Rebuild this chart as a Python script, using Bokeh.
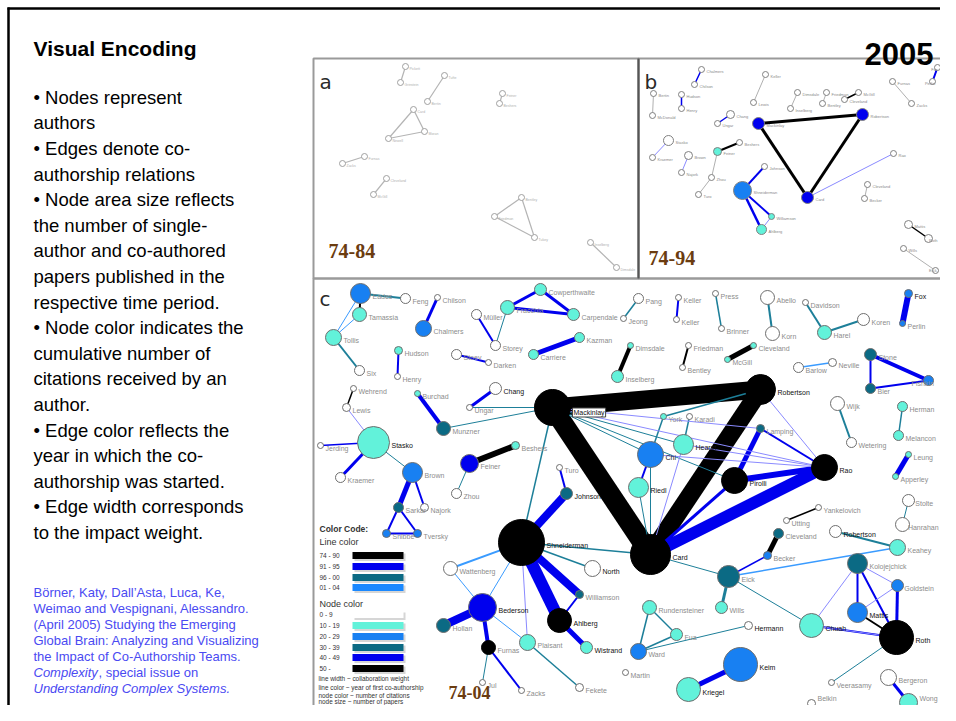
from bokeh.plotting import figure
from bokeh.models import Range1d, Label
from bokeh.embed import file_html
from bokeh.resources import INLINE
from bokeh.core.properties import value

# ---------------- text content ----------------
TITLE = "Visual Encoding"
YEAR = "2005"
BULLETS = ["• Nodes represent", "authors", "• Edges denote co-", "authorship relations",
           "• Node area size reflects", "the number of single-", "author and co-authored",
           "papers published in the", "respective time period.", "• Node color indicates the",
           "cumulative number of", "citations received by an", "author.",
           "• Edge color reflects the", "year in which the co-", "authorship was started.",
           "• Edge width corresponds", "to the impact weight."]
CITATION = ["Börner, Katy, Dall’Asta, Luca, Ke,", "Weimao and Vespignani, Alessandro.",
            "(April 2005) Studying the Emerging", "Global Brain: Analyzing and Visualizing",
            "the Impact of Co-Authorship Teams."]
CIT_ITALIC1 = "Complexity"
CIT_REST1 = ", special issue on"
CIT_ITALIC2 = "Understanding Complex Systems."
PERIODS = ["74-84", "74-94", "74-04"]
PANEL_LETTERS = ["a", "b", "c"]
LINE_CLASSES = ["74 - 90", "91 - 95", "96 - 00", "01 - 04"]
NODE_CLASSES = ["0 - 9", "10 - 19", "20 - 29", "30 - 39", "40 - 49", "50 -"]
NOTES = ["line width ~ collaboration weight", "line color ~ year of first co-authorship",
         "node color ~ number of citations", "node size ~ number of papers"]

# ---------------- panel c network (74-04) ----------------
c_name = ["Eades", "Feng", "Tamassia", "Tollis", "Six", "Chilson", "Chalmers", "Hudson", "Henry",
          "Wehrend", "Lewis", "Stasko", "Jerding", "Kraemer", "Brown", "Burchad", "Munzner", "Chang",
          "Ungar", "Mackinlay", "Müller", "Fracchia", "Cowperthwaite", "Carpendale", "Storey", "Stoev",
          "Darken", "Carriere", "Kazman", "Feiner", "Beshers", "Zhou", "Turo", "Johnson", "Pang",
          "Jeong", "Keller", "Keller", "Press", "Brinner", "Abello", "Korn", "Davidson", "Harel",
          "Koren", "Fox", "Perlin", "Dimsdale", "Inselberg", "Friedman", "Bentley", "McGill",
          "Cleveland", "Barlow", "Neville", "Stone", "Fishkin", "Bier", "Robertson", "Wijk",
          "Wetering", "Herman", "Melancon", "Leung", "Apperley", "York", "Karadi", "Hearst", "Chi",
          "Riedl", "Pirolli", "Rao", "Lamping", "Card", "Shneiderman", "Sarkar", "Najork", "Snibbe",
          "Tversky", "Wattenberg", "North", "Bederson", "Hollan", "Furnas", "Jul", "Zacks",
          "Plaisant", "Fekete", "Williamson", "Ahlberg", "Wistrand", "Yankelovich", "Utting",
          "Cleveland", "Becker", "Eick", "Wills", "Rundensteiner", "Fua", "Ward", "Martin",
          "Hermann", "Keim", "Kriegel", "Robertson", "Keahey", "Stolte", "Hanrahan", "Kolojejchick",
          "Goldstein", "Mattis", "Chuah", "Roth", "Veerasamy", "Belkin", "Bergeron", "Wong"]
c_x = [360, 405, 359, 333, 359, 437, 423, 398, 397, 353, 346, 373, 320, 340, 412, 417, 443, 495,
       469, 552, 476, 507, 540, 573, 495, 456, 488, 533, 579, 469, 515, 456, 559, 566, 638,
       623, 678, 676, 715, 721, 767, 772, 805, 824, 863, 908, 902, 630, 617, 688, 682, 727,
       753, 798, 832, 870, 928, 870, 760, 837, 851, 902, 898, 908, 895, 663, 689, 683, 650,
       638, 734, 824, 760, 650, 521, 398, 424, 386, 417, 450, 592, 482, 443, 488, 482, 521,
       527, 579, 579, 559, 586, 818, 786, 778, 767, 728, 721, 649, 676, 638, 625, 748, 740,
       688, 835, 897, 908, 902, 857, 897, 857, 811, 896, 831, 811, 888, 908]
c_y = [293, 298, 314, 337, 370, 297, 328, 350, 376, 388, 407, 442, 445, 477, 472, 393, 428, 388,
       407, 407, 314, 307, 289, 314, 345, 354, 362, 354, 337, 463, 445, 493, 467, 493, 298,
       318, 297, 319, 293, 328, 297, 333, 302, 332, 319, 293, 323, 345, 376, 345, 367, 359,
       345, 367, 362, 354, 380, 388, 389, 403, 442, 406, 435, 454, 476, 416, 416, 444, 454,
       487, 480, 467, 428, 554, 542, 507, 507, 533, 533, 568, 568, 607, 625, 647, 682, 690,
       642, 687, 594, 620, 647, 507, 520, 533, 555, 576, 607, 607, 634, 651, 672, 625, 664,
       689, 531, 547, 500, 524, 563, 585, 612, 625, 637, 682, 703, 677, 702]
c_r = [10, 5, 7, 8, 5, 3, 8, 4, 3, 3, 4, 16, 3, 5, 10, 3, 7, 6,
       3, 18, 5, 7, 6, 6, 5, 5, 3, 5, 5, 9, 4, 5, 3, 6, 5,
       3, 3, 3, 3, 3, 7, 7, 3, 7, 6, 4, 3, 3, 6, 3, 3, 3,
       3, 5, 4, 6, 5, 5, 15, 7, 5, 5, 5, 3, 3, 3, 3, 10, 13,
       10, 13, 13, 4, 20, 23, 5, 4, 4, 4, 7, 8, 14, 7, 7, 3, 3,
       8, 4, 4, 12, 6, 3, 3, 5, 4, 11, 6, 7, 6, 8, 3, 4, 17,
       12, 6, 8, 6, 7, 10, 6, 10, 12, 17, 3, 4, 8, 9]
# citation class index into NODE_CLASSES
c_cite = [2, 0, 1, 1, 0, 0, 2, 1, 0, 0, 0, 1, 0, 0, 2, 1, 3, 0,
          0, 5, 0, 1, 1, 1, 0, 0, 0, 1, 1, 4, 1, 0, 0, 3, 0,
          0, 0, 0, 0, 0, 0, 0, 0, 1, 0, 2, 2, 1, 1, 0, 0, 1,
          1, 0, 0, 3, 2, 3, 5, 0, 0, 1, 1, 1, 1, 1, 0, 1, 2,
          1, 5, 5, 3, 5, 5, 3, 0, 2, 2, 0, 0, 4, 3, 5, 0, 0,
          1, 0, 3, 5, 1, 0, 0, 3, 2, 3, 1, 1, 1, 2, 0, 0, 2,
          1, 0, 1, 0, 0, 3, 2, 2, 1, 5, 0, 0, 0, 1]
# 1 = label drawn dark
c_dark = [0, 0, 0, 0, 0, 0, 0, 0, 0, 0, 0, 1, 0, 0, 0, 0, 0, 1,
          0, 1, 0, 0, 0, 0, 0, 0, 0, 0, 0, 0, 0, 0, 0, 1, 0,
          0, 0, 0, 0, 0, 0, 0, 0, 0, 0, 1, 0, 0, 0, 0, 0, 0,
          0, 0, 0, 0, 0, 0, 1, 0, 0, 0, 0, 0, 0, 0, 0, 1, 1,
          1, 1, 1, 0, 1, 1, 0, 0, 0, 0, 0, 1, 1, 0, 0, 0, 0,
          0, 0, 0, 1, 1, 0, 0, 0, 0, 0, 0, 0, 0, 0, 0, 1, 1,
          1, 1, 0, 0, 0, 0, 0, 1, 1, 1, 0, 0, 0, 0]
# edges: source index, target index, weight (width), year class (0-3 legend; 4 faint 91-95)
c_src = [0, 0, 0, 2, 3, 5, 7, 9, 10, 12, 13, 11, 14, 14, 75, 75, 77, 15, 16, 17, 18, 20, 21, 21,
         21, 22, 25, 27, 29, 29, 32, 33, 19, 19, 58, 19, 19, 19, 19, 19, 19, 73, 73, 73, 65, 66,
         65, 68, 73, 73, 70, 72, 72, 58, 67, 68, 73, 73, 74, 74, 74, 74, 74, 74, 89, 89, 79, 81,
         81, 81, 83, 83, 86, 34, 36, 38, 40, 42, 43, 45, 47, 49, 51, 53, 55, 55, 57, 59, 61, 63,
         91, 93, 94, 95, 95, 95, 104, 106, 97, 97, 98, 101, 102, 108, 108, 108, 108, 109, 109,
         110, 111, 111, 113, 115]
c_dst = [1, 2, 3, 3, 4, 6, 8, 10, 11, 11, 11, 14, 75, 76, 77, 78, 78, 16, 19, 18, 19, 24, 24, 22,
         23, 23, 26, 28, 30, 31, 33, 74, 58, 73, 73, 74, 71, 70, 68, 67, 72, 68, 69, 67, 68, 67,
         58, 69, 70, 71, 71, 70, 71, 71, 71, 71, 74, 95, 80, 79, 81, 86, 88, 89, 88, 90, 81, 82,
         83, 86, 84, 85, 87, 35, 37, 39, 41, 43, 44, 46, 48, 50, 52, 54, 56, 57, 56, 60, 62, 64,
         92, 94, 95, 96, 105, 111, 105, 107, 99, 98, 99, 99, 103, 110, 111, 112, 109, 112, 110,
         112, 112, 112, 112, 116]
c_w = [2, 2, 1, 1, 2, 3, 2, 1.5, 1, 1.5, 3, 1, 5, 2, 2, 2, 2, 4, 1, 3, 1, 2, 1, 3,
       3, 3, 2, 5, 6, 1, 2, 8, 18, 20, 18, 1.5, 1, 1, 1, 1, 1, 1, 1, 1, 1.5, 1.5,
       1.5, 2, 3, 12, 6, 5, 2, 1, 1, 1, 1.5, 1, 1.5, 2, 1, 1, 8, 12, 2, 5, 1, 8,
       4, 1, 1, 2, 1.5, 1.5, 2, 1.5, 2, 2, 2, 6, 4, 2, 5, 1.5, 4, 2, 2, 2, 1.5, 5,
       1.5, 5, 1.5, 3, 1.5, 1, 2, 1, 1.5, 1.5, 1.5, 1, 5, 2, 1, 2, 1, 3, 1,
       2, 1, 2, 1, 3]
c_year = [2, 0, 3, 3, 2, 1, 1, 0, 4, 1, 1, 2, 1, 1, 1, 1, 1, 1, 2, 1, 2, 1, 2, 1,
          1, 1, 1, 1, 0, 2, 1, 1, 0, 0, 0, 2, 4, 2, 2, 2, 4, 2, 2, 4, 2, 2,
          2, 1, 1, 1, 1, 1, 1, 4, 4, 4, 2, 2, 2, 3, 3, 4, 1, 1, 1, 1, 3, 1,
          1, 3, 2, 1, 2, 2, 1, 2, 2, 2, 2, 1, 0, 0, 0, 3, 1, 1, 1, 2, 2, 1,
          0, 0, 1, 2, 3, 2, 2, 2, 2, 2, 2, 2, 1, 1, 4, 1, 4, 1, 4,
          0, 4, 1, 2, 1]

# ---------------- panel a network (74-84) ----------------
a_name = ["Pickett", "Grinstein", "Tufte", "Bertin", "Feiner", "Beshers", "Card", "Moran",
          "Newell", "Furnas", "Zacks", "Cleveland", "McGill", "Bentley", "Friedman", "Tukey",
          "Inselberg", "Dimsdale"]
a_x = [405, 400, 444, 427, 502, 499, 413, 424, 388, 364, 342, 386, 373, 521, 494, 534, 590, 616]
a_y = [66, 82, 75, 101, 93, 103, 109, 131, 138, 156, 163, 178, 194, 197, 216, 237, 242, 267]
a_src = [0, 2, 4, 6, 7, 8, 9, 11, 13, 14, 15, 16]
a_dst = [1, 3, 5, 7, 8, 6, 10, 12, 14, 15, 13, 17]

# ---------------- panel b network (74-94) ----------------
b_name = ["Mackinlay", "Robertson", "Card", "Rao", "Shneiderman", "Ahlberg", "Williamson", "Johnson",
          "Feiner", "Beshers", "Zhou", "Turo", "Chang", "Ungar", "Stasko", "Kraemer", "Brown",
          "Najork", "Bertin", "McDonald", "Hudson", "Henry", "Chalmers", "Chilson", "Keller",
          "Lewis", "Dimsdale", "Inselberg", "Friedman", "Bentley", "McGill", "Cleveland", "Furnas",
          "Zacks", "Fox", "Perlin", "Cleveland", "Becker", "Mattis", "Roth", "Wills", "Eick"]
b_x = [758, 862, 807, 893, 742, 761, 771, 764, 717, 739, 711, 698, 730, 717, 668, 652, 688, 681,
       653, 652, 681, 681, 701, 694, 765, 753, 797, 790, 826, 822, 858, 844, 892, 911, 937, 932,
       867, 864, 908, 928, 903, 935]
b_y = [123, 114, 197, 153, 190, 229, 216, 166, 151, 142, 177, 194, 114, 123, 140, 157, 155, 172,
       93, 115, 94, 108, 69, 84, 74, 102, 92, 108, 92, 103, 92, 99, 81, 103, 67, 81,
       184, 198, 224, 238, 248, 270]
b_r = [6, 6, 6, 3, 9, 5, 3, 3, 4, 3, 3, 3, 4, 3, 5, 3, 4, 3,
       3, 3, 3, 3, 3, 3, 3, 3, 3, 3, 3, 3, 3, 3, 3, 3, 3, 3,
       3, 3, 4, 4, 3, 3]
b_cite = [4, 4, 4, 0, 2, 1, 1, 0, 1, 0, 0, 0, 0, 0, 0, 0, 0, 0,
          0, 0, 0, 0, 0, 0, 0, 0, 0, 0, 0, 0, 0, 0, 0, 0, 0, 0,
          0, 0, 0, 0, 0, 0]
b_src = [0, 1, 0, 2, 4, 4, 4, 5, 8, 8, 10, 12, 14, 16, 18, 20, 22, 24, 26, 28, 30, 32, 34, 36, 38, 40]
b_dst = [1, 2, 2, 3, 7, 5, 6, 6, 9, 10, 11, 13, 15, 17, 19, 21, 23, 25, 27, 29, 31, 33, 35, 37, 39, 41]
b_w = [3, 3, 3, 1, 2, 2.5, 2, 1, 2, 1, 1, 1.5, 1, 1, 1, 1.5, 1.5, 1, 1, 1, 1.5, 1, 2, 1, 1.5, 1]
b_year = [0, 0, 0, 4, 1, 1, 1, 4, 0, 5, 5, 1, 4, 4, 5, 1, 1, 5, 5, 5, 0, 5, 1, 5, 0, 5]

# ---------------- styles ----------------
NODE_COLORS = ["#ffffff", "#62f2da", "#1880f2", "#0b6a84", "#0000ee", "#000000"]
LINE_COLORS = ["#000000", "#0000ee", "#1d7f99", "#3a9bff", "#8a8aff", "#b0b0b0"]
SWATCH_LINE = ["#000000", "#0000ee", "#0b6a84", "#1a88ff"]
BROWN = "#6b3c10"
SANS = "Liberation Sans"
W, H = 940, 705

p = figure(width=W, height=H, x_range=Range1d(0, W), y_range=Range1d(H, 0),
           output_backend="svg", toolbar_location=None,
           x_axis_location=None, y_axis_location=None, min_border=0)
p.grid.visible = False
p.outline_line_color = None
p.background_fill_color = "white"

# slide frame
p.segment(x0=[8, 7], y0=[7, 8], x1=[8, 960], y1=[730, 8], line_color="black", line_width=2.5)

# panel frames
p.quad(left=[313, 638, 313], right=[638, 958, 958], top=[58, 58, 278], bottom=[278, 278, 720],
       fill_color=None, line_color="#9a9a9a", line_width=2)
p.segment(x0=[638], y0=[58], x1=[638], y1=[278], line_color="#555555", line_width=2)


def seg(xs, ys, src, dst):
    return ([xs[i] for i in src], [ys[i] for i in src], [xs[j] for j in dst], [ys[j] for j in dst])


def lab_pos(xs, ys, rs, names, cw, dy, ymax):
    lx = [min(x + r + 2, W - 3 - cw * len(n)) for x, r, n in zip(xs, rs, names)]
    ly = [min(y + dy, ymax) for y in ys]
    return lx, ly


# ---- panel a ----
x0, y0, x1, y1 = seg(a_x, a_y, a_src, a_dst)
p.segment(x0=x0, y0=y0, x1=x1, y1=y1, line_color="#b4b4b4", line_width=1.2)
p.scatter(x=a_x, y=a_y, size=6, fill_color="white", line_color="#a0a0a0", line_width=1)
p.text(x=[x + 4 for x in a_x], y=[y + 2 for y in a_y], text=a_name, text_font=value(SANS),
       text_font_size="3.5px", text_color="#b0b0b0", text_baseline="middle")

# ---- panel b ----
order = sorted(range(len(b_src)), key=lambda k: -b_w[k])
x0, y0, x1, y1 = seg(b_x, b_y, [b_src[k] for k in order], [b_dst[k] for k in order])
p.segment(x0=x0, y0=y0, x1=x1, y1=y1, line_color=[LINE_COLORS[b_year[k]] for k in order],
          line_width=[b_w[k] for k in order])
p.scatter(x=b_x, y=b_y, size=[2 * r for r in b_r], fill_color=[NODE_COLORS[c] for c in b_cite],
          line_color="#808080", line_width=1)
blx, bly = lab_pos(b_x, b_y, b_r, b_name, 2.1, 2, 270)
p.text(x=blx, y=bly, text=b_name, text_font=value(SANS), text_font_size="4px",
       text_color="#8a8a8a", text_baseline="middle")

# ---- panel c ----
order = sorted(range(len(c_src)), key=lambda k: -c_w[k])
x0, y0, x1, y1 = seg(c_x, c_y, [c_src[k] for k in order], [c_dst[k] for k in order])
p.segment(x0=x0, y0=y0, x1=x1, y1=y1, line_color=[LINE_COLORS[c_year[k]] for k in order],
          line_width=[c_w[k] for k in order])
p.scatter(x=c_x, y=c_y, size=[2 * r for r in c_r], fill_color=[NODE_COLORS[c] for c in c_cite],
          line_color=["#000000" if c == 5 else "#6e6e6e" for c in c_cite], line_width=1)
lab_idx = [i for i in range(len(c_name)) if c_name[i] != "Mackinlay"]
clx, cly = lab_pos([c_x[i] for i in lab_idx], [c_y[i] for i in lab_idx], [c_r[i] for i in lab_idx],
                   [c_name[i] for i in lab_idx], 3.7, 3, 698)
p.text(x=clx, y=cly, text=[c_name[i] for i in lab_idx], text_font=value(SANS), text_font_size="7px",
       text_color=["#111111" if c_dark[i] else "#8c8c8c" for i in lab_idx], text_baseline="middle")
mi = c_name.index("Mackinlay")
p.add_layout(Label(x=c_x[mi] + c_r[mi] + 2, y=c_y[mi] + 5, text="Mackinlay", text_font=SANS,
                   text_font_size="7px", text_color="#111111", text_baseline="middle",
                   background_fill_color="white", border_line_color="#444444", padding=1))

# ---- legend in panel c ----
p.text(x=[319], y=[528], text=["Color Code:"], text_font=value(SANS), text_font_size="8.5px",
       text_font_style="bold", text_color="#333333", text_baseline="middle")
p.text(x=[319, 319], y=[541, 603], text=["Line color", "Node color"], text_font=value(SANS),
       text_font_size="9px", text_color="#333333", text_baseline="middle")
line_rows = [555, 566, 577, 587]
node_rows = [614, 625, 636, 647, 657, 668]
p.text(x=[319] * 4, y=line_rows, text=LINE_CLASSES, text_font=value(SANS), text_font_size="6.5px",
       text_color="#333333", text_baseline="middle")
p.text(x=[319] * 6, y=node_rows, text=NODE_CLASSES, text_font=value(SANS), text_font_size="6.5px",
       text_color="#333333", text_baseline="middle")
rows = line_rows + node_rows
cols = SWATCH_LINE + NODE_COLORS
p.quad(left=[354] * 10, right=[405] * 10, top=[y - 2 for y in rows], bottom=[y + 5.5 for y in rows],
       fill_color="#d6d6d6", line_color=None)
p.quad(left=[352] * 10, right=[403] * 10, top=[y - 3.6 for y in rows], bottom=[y + 3.6 for y in rows],
       fill_color=cols, line_color=None)
p.text(x=[318] * 4, y=[678, 686.5, 695, 701], text=NOTES, text_font=value(SANS),
       text_font_size="6.4px", text_color="#333333", text_baseline="middle")

# ---- period labels and panel letters ----
p.text(x=[328, 648], y=[250, 257], text=PERIODS[:2], text_font=value("Liberation Serif"),
       text_font_size="20px", text_font_style="bold", text_color=BROWN, text_baseline="alphabetic")
p.text(x=[448], y=[698], text=PERIODS[2:], text_font=value("Liberation Serif"),
       text_font_size="18px", text_font_style="bold", text_color=BROWN, text_baseline="bottom")
p.text(x=[319, 644, 319], y=[81, 81, 298], text=PANEL_LETTERS, text_font=value("DejaVu Sans"),
       text_font_size="20px", text_color="#2a2a2a", text_baseline="alphabetic")

# ---- left text column ----
p.text(x=[33], y=[48], text=[TITLE], text_font=value(SANS), text_font_size="21px",
       text_font_style="bold", text_color="black", text_baseline="alphabetic")
p.text(x=[933], y=[53], text=[YEAR], text_font=value(SANS), text_font_size="31px",
       text_font_style="bold", text_color="black", text_align="right", text_baseline="alphabetic")
p.text(x=[33] * len(BULLETS), y=[96.7 + 25.6 * i for i in range(len(BULLETS))], text=BULLETS,
       text_font=value(SANS), text_font_size="18.5px", text_color="black", text_baseline="alphabetic")
CIT_BLUE = "#4a4af2"
cy0 = 591.5
dy = 16.1
p.text(x=[33] * len(CITATION), y=[cy0 + dy * i for i in range(len(CITATION))], text=CITATION,
       text_font=value(SANS), text_font_size="13px", text_color=CIT_BLUE, text_baseline="alphabetic")
p.text(x=[33, 33], y=[cy0 + dy * 5, cy0 + dy * 6], text=[CIT_ITALIC1, CIT_ITALIC2],
       text_font=value(SANS), text_font_size="13px", text_font_style="italic", text_color=CIT_BLUE,
       text_baseline="alphabetic")
p.text(x=[98], y=[cy0 + dy * 5], text=[CIT_REST1], text_font=value(SANS), text_font_size="13px",
       text_color=CIT_BLUE, text_baseline="alphabetic")

open("out.html", "w").write(file_html(p, INLINE))
